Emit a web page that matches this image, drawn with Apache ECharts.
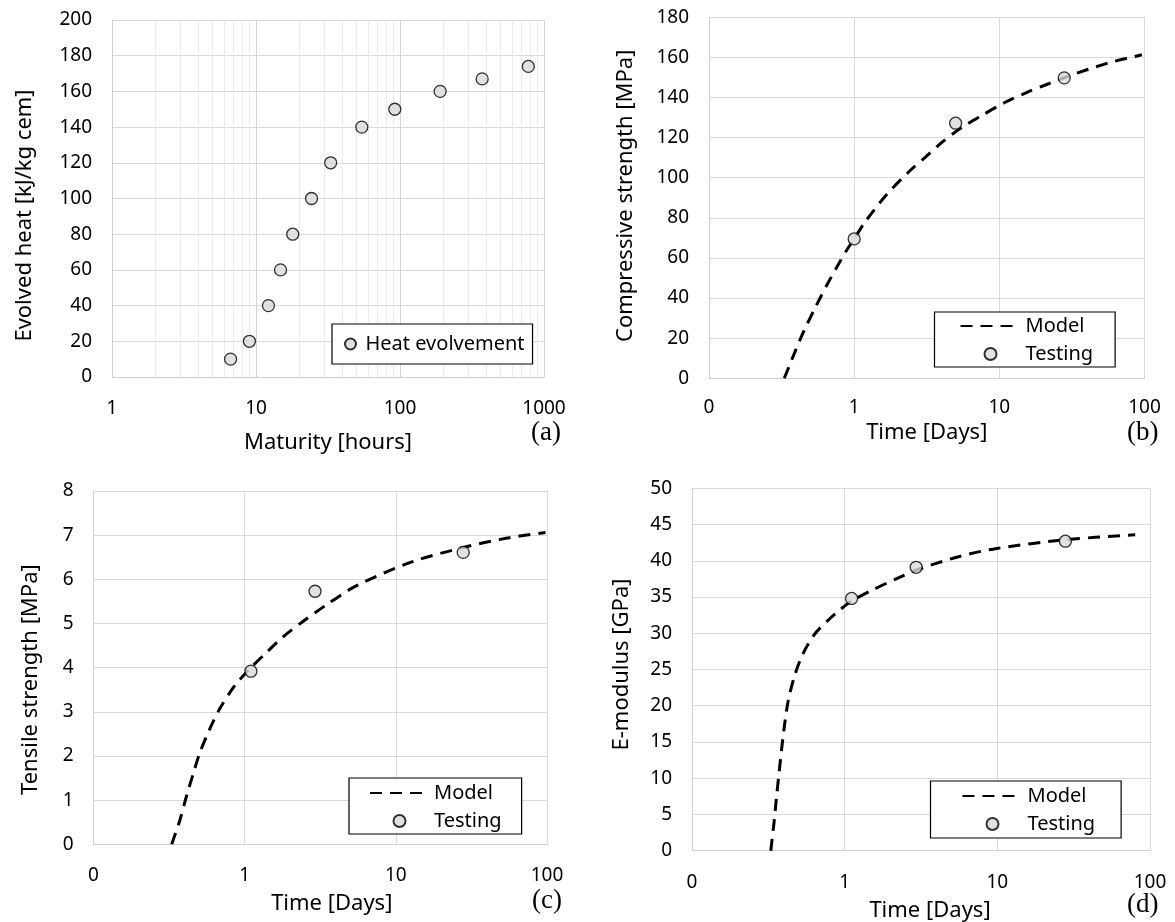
<!DOCTYPE html>
<html><head><meta charset="utf-8">
<script src="https://cdn.jsdelivr.net/npm/echarts@6/dist/echarts.min.js"></script>
<style>html,body{margin:0;padding:0;background:#fff}#c{width:1175px;height:922px}</style>
</head><body><div id="c"></div><script>
// ---- data ----
const heatMaturity = [6.66, 9.0, 12.2, 14.8, 18.0, 24.3, 33.0, 54.3, 92, 190, 372, 778];
const heatValue    = [10, 20, 40, 60, 80, 100, 120, 140, 150, 160, 167, 174];
const minorTicksA  = [2,3,4,5,6,7,8,9,20,30,40,50,60,70,80,90,200,300,400,500,600,700,800,900];

const compModelDays   = [0.33, 0.39, 0.45, 0.55, 0.66, 0.76, 0.89, 1.0, 1.19, 1.67, 2.42, 3.07, 4.0, 5.5, 7.55, 10.9, 15.4, 21.2, 32.3, 58, 96];
const compModelValues = [0, 13, 23.5, 36.5, 47.5, 55.5, 64, 69.5, 78, 91.5, 103.5, 110, 117.5, 125, 131, 137.5, 142.5, 146.5, 151.5, 157.5, 161.3];
const compTestDays    = [1, 5, 28];
const compTestValues  = [69.5, 127.2, 149.8];

const tensModelDays   = [0.329, 0.373, 0.413, 0.457, 0.506, 0.589, 0.687, 0.863, 1.1, 1.4, 1.8, 2.44, 3.4, 5.46, 12.9, 27.9, 53.6, 97.7];
const tensModelValues = [0, 0.55, 1.1, 1.6, 2.08, 2.62, 3.08, 3.6, 4.0, 4.35, 4.7, 5.05, 5.4, 5.85, 6.4, 6.72, 6.93, 7.06];
const tensTestDays    = [1.1, 2.92, 27.9];
const tensTestValues  = [3.92, 5.73, 6.61];

const emodModelDays   = [0.328, 0.345, 0.357, 0.372, 0.386, 0.399, 0.426, 0.471, 0.534, 0.637, 0.798, 0.927, 1.1, 1.53, 2.12, 2.94, 5.65, 9.9, 27.9, 80];
const emodModelValues = [0, 4.0, 7.2, 10.8, 13.9, 16.5, 20.6, 24.2, 27.2, 29.9, 32.0, 33.2, 34.4, 36.0, 37.4, 38.7, 40.6, 41.7, 42.9, 43.6];
const emodTestDays    = [1.11, 2.94, 27.9];
const emodTestValues  = [34.8, 39.1, 42.7];

const panelLabels = ['(a)', '(b)', '(c)', '(d)'];
const xTitles = ['Maturity [hours]', 'Time [Days]', 'Time [Days]', 'Time [Days]'];
const yTitles = ['Evolved heat [kJ/kg cem]', 'Compressive strength [MPa]', 'Tensile strength [MPa]', 'E-modulus [GPa]'];
const yRanges = [[0, 200, 20], [0, 180, 20], [0, 8, 1], [0, 50, 5]];
const xRanges = [[1, 1000], [0.1, 100], [0.1, 100], [0.1, 100]];

// ---- chart ----
const zip = (a, b) => a.map((v, i) => [v, b[i]]);
const F = 'Noto Sans';
const chart = echarts.init(document.getElementById('c'), null, {renderer: 'canvas'});

const grids = [
  {left: 112, top: 20, width: 432, height: 357},
  {left: 709, top: 17.3, width: 435.5, height: 361},
  {left: 93.5, top: 491, width: 453.5, height: 353.3},
  {left: 692, top: 488.3, width: 458, height: 362.4}
].map(g => Object.assign({outerBoundsMode: 'none', containLabel: false}, g));

const xNameGap = [55, 43, 48, 49];
const xNamePad = [[0,0,0,0], [0,0,0,0], [0,0,0,23], [0,0,0,18]];
const yNameGap = [76, 72, 52, 59];
const yNamePad = [[0,34,0,0], [0,0,0,4], [0,24,0,0], [0,0,0,10]];
const xLabelMargin = [22, 20, 22, 22];

const xAxes = xRanges.map((r, i) => ({
  type: 'log', logBase: 10, gridIndex: i, min: r[0], max: r[1],
  name: xTitles[i], nameLocation: 'middle', nameGap: xNameGap[i],
  nameTextStyle: {fontFamily: F, fontSize: 22, color: '#000', padding: xNamePad[i]},
  axisLine: {show: true, onZero: false, lineStyle: {color: '#cfcfcf', width: 1}},
  axisTick: {show: false},
  axisLabel: {margin: xLabelMargin[i], fontFamily: F, fontSize: 19, color: '#000',
    formatter: v => (v < 0.5 ? '0' : String(Math.round(v)))},
  splitLine: {show: true, lineStyle: {color: i === 0 ? '#d4d4d4' : '#d9d9d9', width: 1}}
}));

const yAxes = yRanges.map((r, i) => ({
  type: 'value', gridIndex: i, min: r[0], max: r[1], interval: r[2],
  name: yTitles[i], nameLocation: 'middle', nameGap: yNameGap[i], nameRotate: 90,
  nameTextStyle: {fontFamily: F, fontSize: 22, color: '#000', padding: yNamePad[i]},
  axisLine: {show: true, onZero: false, lineStyle: {color: '#cfcfcf', width: 1}},
  axisTick: {show: false},
  axisLabel: {margin: 20, fontFamily: F, fontSize: 19, color: '#000'},
  splitLine: {show: true, lineStyle: {color: '#d9d9d9', width: 1}}
}));

const dotStyle = {color: '#d9d9d9', borderColor: '#000', borderWidth: 1.3};
const dashStyle = {color: '#000', width: 3, type: [12, 8]};

function modelSeries(i, days, vals) {
  return {type: 'line', name: 'Model', xAxisIndex: i, yAxisIndex: i, data: zip(days, vals),
    smooth: 0.3, symbol: 'none', showSymbol: false,
    lineStyle: dashStyle, itemStyle: {color: '#000'}, z: 2};
}
function testSeries(i, days, vals) {
  return {type: 'scatter', name: 'Testing', xAxisIndex: i, yAxisIndex: i, data: zip(days, vals),
    symbol: 'circle', symbolSize: 12, itemStyle: dotStyle, z: 3};
}

const series = [
  {type: 'line', name: 'minor', xAxisIndex: 0, yAxisIndex: 0, data: [], silent: true, z: 1,
    markLine: {silent: true, symbol: 'none', z: 1, animation: false, label: {show: false},
      lineStyle: {color: '#ebebeb', width: 1, type: 'solid'},
      emphasis: {disabled: true},
      data: minorTicksA.map(v => ({xAxis: v}))}},
  {type: 'scatter', name: 'Heat evolvement', xAxisIndex: 0, yAxisIndex: 0,
    data: zip(heatMaturity, heatValue), symbol: 'circle', symbolSize: 12, itemStyle: dotStyle, z: 3},
  modelSeries(1, compModelDays, compModelValues), testSeries(1, compTestDays, compTestValues),
  modelSeries(2, tensModelDays, tensModelValues), testSeries(2, tensTestDays, tensTestValues),
  modelSeries(3, emodModelDays, emodModelValues), testSeries(3, emodTestDays, emodTestValues)
];

const legendBase = {orient: 'vertical', backgroundColor: '#fff', borderColor: '#000', borderWidth: 1.2,
  selectedMode: false, itemGap: 8,
  textStyle: {fontFamily: F, fontSize: 20, color: '#000', lineHeight: 20}};
const mtItems = [{name: 'Model', itemStyle: {opacity: 0}}, {name: 'Testing'}];
const legends = [
  Object.assign({}, legendBase, {data: ['Heat evolvement'], left: 332, top: 324, itemWidth: 20, itemHeight: 11, padding: [10, 8, 10, 12]}),
  Object.assign({}, legendBase, {data: mtItems, left: 934.5, top: 312, itemWidth: 60, itemHeight: 12, padding: [4, 22, 3, 25]}),
  Object.assign({}, legendBase, {data: mtItems, left: 349, top: 778, itemWidth: 59, itemHeight: 12, padding: [5, 20, 3, 20]}),
  Object.assign({}, legendBase, {data: mtItems, left: 930.5, top: 781, itemWidth: 60, itemHeight: 12, padding: [5, 26, 4, 31]})
];

const labelPos = [[531, 419], [1127, 419], [532, 887], [1127, 891]];
const titles = panelLabels.map((t, i) => ({text: t, left: labelPos[i][0], top: labelPos[i][1], padding: 0,
  textStyle: {fontFamily: 'Liberation Serif', fontSize: 27, fontWeight: 'normal', color: '#000'}}));

chart.setOption({
  animation: false,
  backgroundColor: '#fff',
  title: titles,
  grid: grids,
  xAxis: xAxes,
  yAxis: yAxes,
  legend: legends,
  series: series
});
</script></body></html>
